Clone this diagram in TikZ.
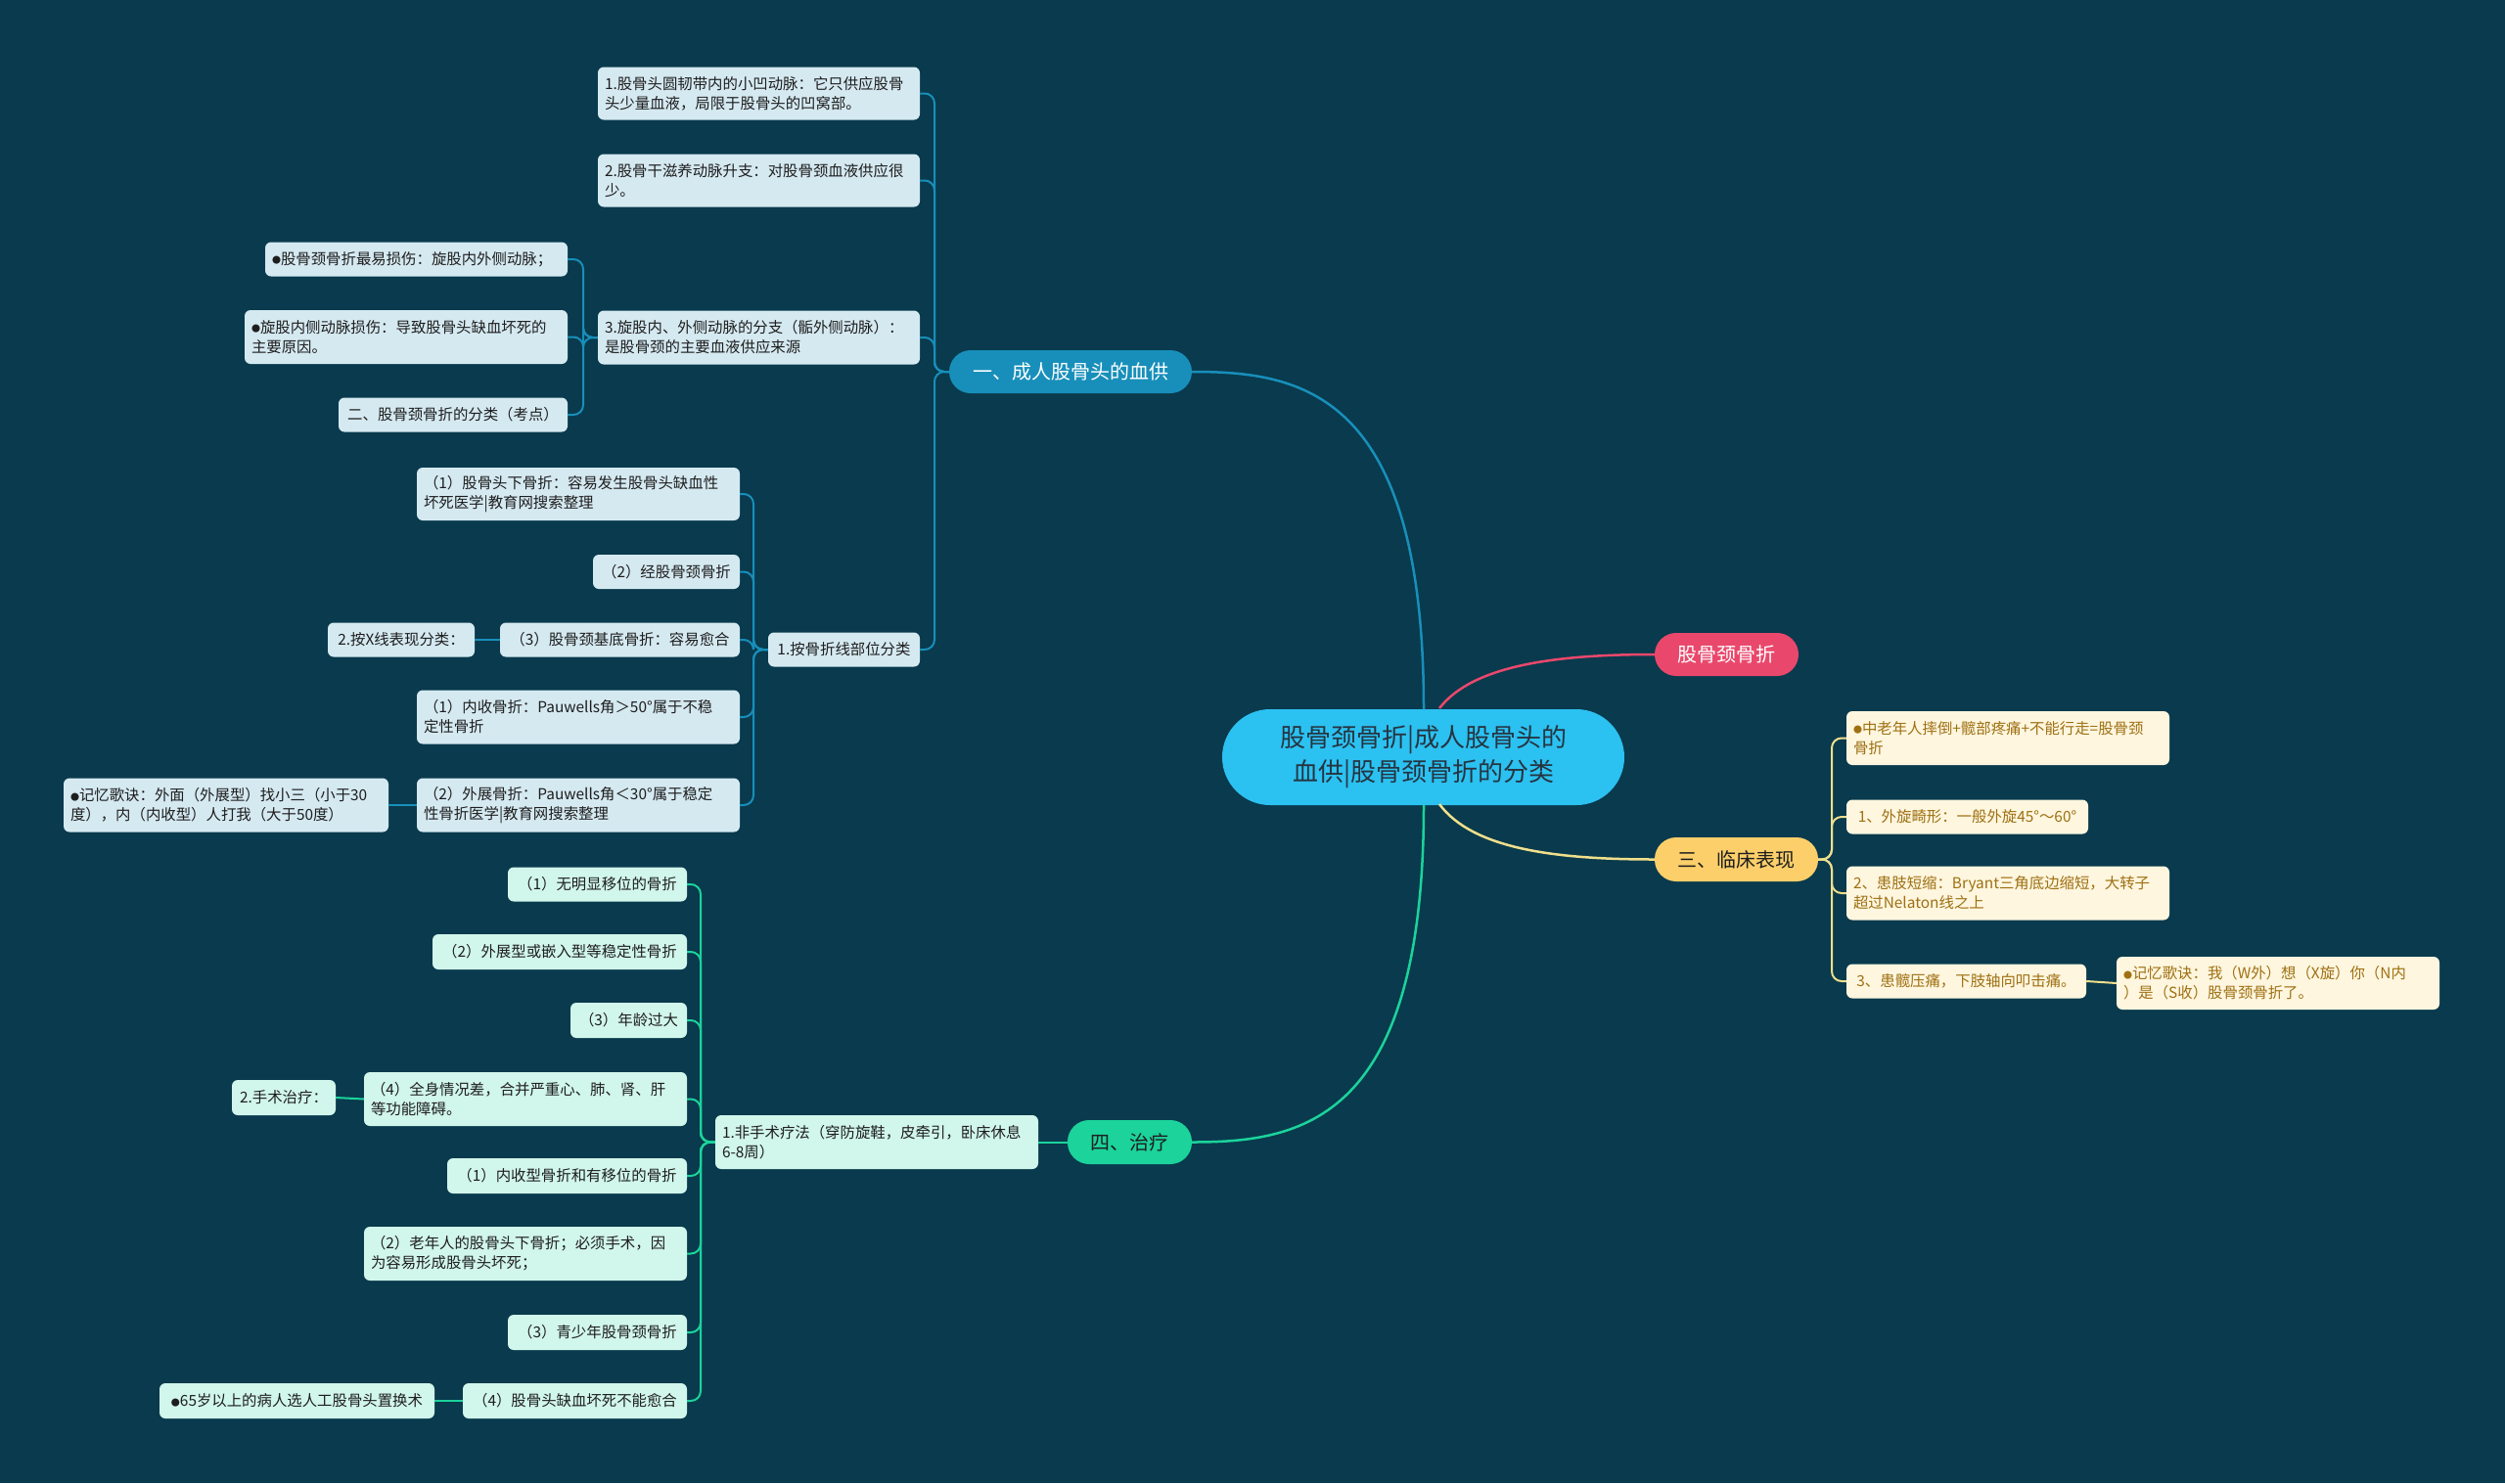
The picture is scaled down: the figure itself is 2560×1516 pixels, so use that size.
\documentclass[tikz,border=0pt]{standalone}
\usepackage{fontspec}
\setmainfont{Noto Sans CJK SC}
\definecolor{bg}{RGB}{9,58,77}
\definecolor{bl}{RGB}{24,143,186}
\definecolor{blleaf}{RGB}{213,233,241}
\definecolor{ctr}{RGB}{43,193,241}
\definecolor{ctrtext}{RGB}{38,52,64}
\definecolor{rd}{RGB}{233,72,108}
\definecolor{yl}{RGB}{253,207,106}
\definecolor{ylleaf}{RGB}{254,246,223}
\definecolor{yltext}{RGB}{158,112,18}
\definecolor{ylline}{RGB}{240,223,140}
\definecolor{gr}{RGB}{27,211,155}
\definecolor{grleaf}{RGB}{209,246,235}
\definecolor{dk}{RGB}{30,30,30}
\newcommand\bul{\raisebox{0.5pt}{\fontsize{9}{9}\selectfont ●}}
\begin{document}
\begin{tikzpicture}[x=1pt,y=-1pt,
  lf/.style 2 args={rectangle, rounded corners=6pt, minimum width=#1pt, text width=#1pt-14pt, minimum height=#2pt, inner xsep=7pt, inner ysep=2pt, align=left, font=\fontsize{15.4}{20}\selectfont},
  sl/.style={align=center},
  bleaf/.style={fill=blleaf, text=dk},
  yleaf/.style={fill=ylleaf, text=yltext},
  gleaf/.style={fill=grleaf, text=dk},
  pill/.style 2 args={rectangle, rounded corners=22pt, minimum width=#1pt, minimum height=#2pt, inner sep=0pt, font=\fontsize{20}{24}\selectfont},
  bline/.style={draw=bl, line width=2pt, rounded corners=10pt},
  yline/.style={draw=ylline, line width=2pt, rounded corners=10pt},
  gline/.style={draw=gr, line width=2pt, rounded corners=10pt},
  main/.style={line width=2.5pt}
]
\useasboundingbox (0,0) rectangle (2560,1516);
\fill[bg] (0,0) rectangle (2560,1516);

% central
\node[rectangle, rounded corners=49pt, fill=ctr, text=ctrtext, minimum width=411pt, minimum height=98pt, align=center, font=\fontsize{26}{35}\selectfont] (c) at (1454.5,774) {股骨颈骨折|成人股骨头的\\血供|股骨颈骨折的分类};

% branches
\node[pill={248}{44}, fill=bl, text=white] (b1) at (1094,380) {一、成人股骨头的血供};
\node[pill={147}{44}, fill=rd, text=white] (b2) at (1764.5,669) {股骨颈骨折};
\node[pill={167}{45}, fill=yl, text=dk] (b3) at (1774.5,878.5) {三、临床表现};
\node[pill={127}{45}, fill=gr, text=dk] (b4) at (1154.5,1167.5) {四、治疗};

\coordinate (ct) at (1455,725);
\coordinate (cb) at (1455,823);
\coordinate (crt) at (1471,724);
\coordinate (crb) at (1471,822);
\draw[main, draw=bl] (ct) .. controls (1455,400) and (1330,380) .. (b1.east);
\draw[main, draw=gr] (cb) .. controls (1455,1147) and (1330,1167.5) .. (b4.east);
\draw[main, draw=rd] (crt) .. controls (1505,680) and (1590,669) .. (b2.west);
\draw[main, draw=ylline] (crb) .. controls (1505,868) and (1590,878.5) .. (b3.west);

% blue leaves
\node[lf={329}{54}, bleaf] (a1) at (775.5,95.5) {1.股骨头圆韧带内的小凹动脉：它只供应股骨\\头少量血液，局限于股骨头的凹窝部。};
\node[lf={329}{54}, bleaf] (a2) at (775.5,184.5) {2.股骨干滋养动脉升支：对股骨颈血液供应很\\少。};
\node[lf={329}{55}, bleaf] (a3) at (775.5,345) {3.旋股内、外侧动脉的分支（骺外侧动脉）：\\是股骨颈的主要血液供应来源};
\node[lf={155}{35}, bleaf, sl] (a4) at (862.5,664) {1.按骨折线部位分类};
\node[lf={309}{35}, bleaf] (a3a) at (425.5,265) {\bul 股骨颈骨折最易损伤：旋股内外侧动脉；};
\node[lf={330}{55}, bleaf] (a3b) at (415,344.5) {\bul 旋股内侧动脉损伤：导致股骨头缺血坏死的\\主要原因。};
\node[lf={234}{35}, bleaf, sl] (a3c) at (463,424) {二、股骨颈骨折的分类（考点）};
\node[lf={330}{54}, bleaf] (p1) at (591,505) {（1）股骨头下骨折：容易发生股骨头缺血性\\坏死医学|教育网搜索整理};
\node[lf={150}{35}, bleaf, sl] (p2) at (681,584.5) {（2）经股骨颈骨折};
\node[lf={245}{35}, bleaf, sl] (p3) at (633.5,654) {（3）股骨颈基底骨折：容易愈合};
\node[lf={150}{35}, bleaf, sl] (p3a) at (410,654) {2.按X线表现分类：};
\node[lf={330}{55}, bleaf] (p4) at (591,733) {（1）内收骨折：Pauwells角＞50°属于不稳\\定性骨折};
\node[lf={330}{55}, bleaf] (p5) at (591,823) {（2）外展骨折：Pauwells角＜30°属于稳定\\性骨折医学|教育网搜索整理};
\node[lf={332}{55}, bleaf] (p5a) at (231,823) {\bul 记忆歌诀：外面（外展型）找小三（小于30\\度），内（内收型）人打我（大于50度）};

\coordinate (s1) at (955,380);
\coordinate (s3) at (596,345);
\coordinate (s4) at (770,664);
\draw[bline] (b1.west) -- (s1) |- (a1.east);
\draw[bline] (b1.west) -- (s1) |- (a2.east);
\draw[bline] (b1.west) -- (s1) |- (a3.east);
\draw[bline] (b1.west) -- (s1) |- (a4.east);
\draw[bline] (a3.west) -- (s3) |- (a3a.east);
\draw[bline] (a3.west) -- (s3) |- (a3b.east);
\draw[bline] (a3.west) -- (s3) |- (a3c.east);
\draw[bline] (a4.west) -- (s4) |- (p1.east);
\draw[bline] (a4.west) -- (s4) |- (p2.east);
\draw[bline] (a4.west) -- (s4) |- (p3.east);
\draw[bline] (a4.west) -- (s4) |- (p4.east);
\draw[bline] (a4.west) -- (s4) |- (p5.east);
\draw[bline] (p3.west) -- (p3a.east);
\draw[bline] (p5.west) -- (p5a.east);

% yellow leaves
\node[lf={330}{55}, yleaf] (y1) at (2052,754.5) {\bul 中老年人摔倒+髋部疼痛+不能行走=股骨颈\\骨折};
\node[lf={247}{35}, yleaf, sl] (y2) at (2010.5,835) {1、外旋畸形：一般外旋45°～60°};
\node[lf={330}{55}, yleaf] (y3) at (2052,913) {2、患肢短缩：Bryant三角底边缩短，大转子\\超过Nelaton线之上};
\node[lf={245}{35}, yleaf, sl] (y4) at (2009.5,1003) {3、患髋压痛，下肢轴向叩击痛。};
\node[lf={330}{54}, yleaf] (y4a) at (2328,1005) {\bul 记忆歌诀：我（W外）想（X旋）你（N内\\）是（S收）股骨颈骨折了。};
\coordinate (sy) at (1872,878.5);
\draw[yline] (b3.east) -- (sy) |- (y1.west);
\draw[yline] (b3.east) -- (sy) |- (y2.west);
\draw[yline] (b3.east) -- (sy) |- (y3.west);
\draw[yline] (b3.east) -- (sy) |- (y4.west);
\draw[yline] (y4.east) -- (y4a.west);

% green leaves
\node[lf={330}{55}, gleaf] (d) at (896,1167.5) {1.非手术疗法（穿防旋鞋，皮牵引，卧床休息\\6-8周）};
\node[lf={183}{35}, gleaf, sl] (d1) at (610.5,904) {（1）无明显移位的骨折};
\node[lf={260}{36}, gleaf, sl] (d2) at (572,973) {（2）外展型或嵌入型等稳定性骨折};
\node[lf={119}{36}, gleaf, sl] (d3) at (642.5,1043) {（3）年龄过大};
\node[lf={330}{55}, gleaf] (d4) at (537,1123.5) {（4）全身情况差，合并严重心、肺、肾、肝\\等功能障碍。};
\node[lf={106}{36}, gleaf, sl] (d4a) at (290,1122) {2.手术治疗：};
\node[lf={245}{36}, gleaf, sl] (d5) at (579.5,1202) {（1）内收型骨折和有移位的骨折};
\node[lf={330}{55}, gleaf] (d6) at (537,1281.5) {（2）老年人的股骨头下骨折；必须手术，因\\为容易形成股骨头坏死；};
\node[lf={183}{36}, gleaf, sl] (d7) at (610.5,1362) {（3）青少年股骨颈骨折};
\node[lf={229}{36}, gleaf, sl] (d8) at (587.5,1432) {（4）股骨头缺血坏死不能愈合};
\node[lf={281}{36}, gleaf, sl] (d8a) at (303.5,1432) {\bul 65岁以上的病人选人工股骨头置换术};
\coordinate (sd) at (716,1167.5);
\draw[gline] (b4.west) -- (d.east);
\foreach \n in {d1,d2,d3,d4,d5,d6,d7,d8}
  \draw[gline] (d.west) -- (sd) |- (\n.east);
\draw[gline] (d4.west) -- (d4a.east);
\draw[gline] (d8.west) -- (d8a.east);
\end{tikzpicture}
\end{document}
